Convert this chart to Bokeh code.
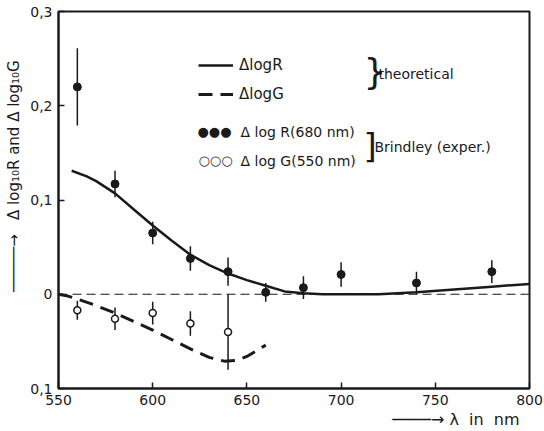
from bokeh.plotting import figure
from bokeh.models import Range1d, FixedTicker, Label, Legend, LegendItem, Span, Title
from bokeh.embed import file_html
from bokeh.resources import INLINE

# ---------------- data ----------------
# Brindley experimental points, Delta log R (680 nm) - filled circles
wl_R_exp = [560, 580, 600, 620, 640, 660, 680, 700, 740, 780]
dR_exp = [0.220, 0.117, 0.065, 0.038, 0.024, 0.002, 0.007, 0.021, 0.012, 0.024]
dR_err = [0.041, 0.014, 0.012, 0.013, 0.015, 0.010, 0.012, 0.013, 0.012, 0.012]

# Brindley experimental points, Delta log G (550 nm) - open circles
wl_G_exp = [560, 580, 600, 620, 640]
dG_exp = [-0.017, -0.026, -0.020, -0.031, -0.040]
dG_err = [0.010, 0.012, 0.012, 0.013, 0.040]

# theoretical Delta log R (solid)
wl_th_R = [557, 565, 570, 580, 590, 600, 610, 620, 630, 640, 650, 660, 670,
           680, 690, 700, 720, 740, 760, 780, 800]
dR_th = [0.131, 0.125, 0.120, 0.107, 0.090, 0.073, 0.057, 0.042, 0.031, 0.022,
         0.015, 0.009, 0.003, 0.001, 0.000, 0.000, 0.000, 0.002, 0.005, 0.008, 0.011]

# theoretical Delta log G (dashed)
wl_th_G = [550, 555, 560, 570, 580, 590, 600, 610, 620, 630, 638, 645, 650, 655, 660]
dG_th = [0.000, -0.002, -0.005, -0.012, -0.020, -0.029, -0.038, -0.048, -0.058,
         -0.067, -0.071, -0.070, -0.066, -0.060, -0.054]

x_ticks = [550, 600, 650, 700, 750, 800]
x_tick_labels = ["550", "600", "650", "700", "750", "800"]
y_ticks = [-0.1, 0.0, 0.1, 0.2, 0.3]
y_tick_labels = ["0,1", "0", "0,1", "0,2", "0,3"]

# ---------------- figure ----------------
FONT = "DejaVu Sans"
INK = "#1a1a1a"
NB = "\u00a0"
X0, X1, Y0, Y1 = 550, 800, -0.1, 0.3
FL, FR, FT, FB = 58, 529, 11, 388  # frame edges in px


def px_x(px):
    return X0 + (px - FL) * (X1 - X0) / (FR - FL)


def px_y(py):
    return Y1 - (py - FT) * (Y1 - Y0) / (FB - FT)


p = figure(width=544, height=431, output_backend="svg", toolbar_location=None,
           x_range=Range1d(X0, X1), y_range=Range1d(Y0, Y1),
           min_border_left=FL, min_border_right=544 - FR,
           min_border_top=FT, min_border_bottom=431 - FB)
p.grid.visible = False
p.outline_line_color = INK
p.outline_line_width = 2
p.background_fill_color = "white"
p.border_fill_color = "white"

for ax in (p.xaxis[0], p.yaxis[0]):
    ax.axis_line_width = 2
    ax.axis_line_color = INK
    ax.major_tick_in = 6
    ax.major_tick_out = 0
    ax.major_tick_line_width = 1.5
    ax.major_tick_line_color = INK
    ax.minor_tick_in = 0
    ax.minor_tick_out = 0
    ax.major_label_text_font = FONT
    ax.major_label_text_font_size = "14px"
    ax.major_label_text_color = INK

p.xaxis.ticker = FixedTicker(ticks=x_ticks)
p.xaxis.major_label_overrides = dict(zip(x_ticks, x_tick_labels))
p.xaxis.major_label_standoff = 6
p.yaxis.ticker = FixedTicker(ticks=y_ticks)
p.yaxis.major_label_overrides = dict(zip(y_ticks, y_tick_labels))
p.yaxis.major_label_standoff = 6
p.yaxis.axis_label = (NB * 10 + "─────→" + NB * 3 +
                      "Δ" + NB + "log₁₀R" + NB + "and" + NB + "Δ" + NB + "log₁₀G")
p.yaxis.axis_label_text_font = FONT
p.yaxis.axis_label_text_font_size = "15px"
p.yaxis.axis_label_text_font_style = "normal"
p.yaxis.axis_label_text_color = INK
p.yaxis.axis_label_standoff = 4

# x-axis title, placed at the right under the tick labels
p.add_layout(Title(text="────→" + NB + "λ" + NB * 2 + "in" + NB * 2 + "nm",
                   align="right", offset=10, standoff=0,
                   text_font=FONT, text_font_size="16px", text_font_style="normal",
                   text_color=INK), "below")

# zero line
p.add_layout(Span(location=0, dimension="width", line_color=INK, line_width=1.2,
                  line_dash="9 5"))

# theoretical curves
r_R = p.line(wl_th_R, dR_th, line_color=INK, line_width=2.5)
r_G = p.line(wl_th_G, dG_th, line_color=INK, line_width=3, line_dash="14 8")

# error bars
p.segment(x0=wl_R_exp, x1=wl_R_exp,
          y0=[v - e for v, e in zip(dR_exp, dR_err)],
          y1=[v + e for v, e in zip(dR_exp, dR_err)],
          line_color=INK, line_width=1.5)
p.segment(x0=wl_G_exp, x1=wl_G_exp,
          y0=[v - e for v, e in zip(dG_exp, dG_err)],
          y1=[v + e for v, e in zip(dG_exp, dG_err)],
          line_color=INK, line_width=1.5)

p.scatter(wl_R_exp, dR_exp, size=8, fill_color=INK, line_color=INK)
p.scatter(wl_G_exp, dG_exp, size=7, fill_color="white", line_color=INK, line_width=1.5)

# legend for theoretical curves
leg = Legend(items=[LegendItem(label="ΔlogR", renderers=[r_R]),
                    LegendItem(label="ΔlogG", renderers=[r_G])],
             location=(198 - FL, FB - FT - 83 - 10),
             glyph_width=35, glyph_height=20, label_height=20, spacing=9,
             padding=0, margin=0, border_line_alpha=0, background_fill_alpha=0,
             label_text_font=FONT, label_text_font_size="15px",
             label_text_color=INK, label_standoff=6)
p.add_layout(leg)


def lab(px, py, text, size="14px", align="left", angle=0.0):
    p.add_layout(Label(x=px_x(px), y=px_y(py), text=text, text_font=FONT,
                       text_font_size=size, text_color=INK, text_align=align,
                       text_baseline="middle", angle=angle))


lab(363, 71, "}", size="36px")
lab(378, 73, "theoretical")
lab(197, 131, "●●●", size="13px")
lab(240, 131, "Δ log R(680 nm)")
lab(198, 160, "○○○", size="13px")
lab(240, 160, "Δ log G(550 nm)")
lab(363, 145, "]", size="34px")
lab(374, 146, "Brindley (exper.)")

open("out.html", "w").write(file_html(p, INLINE))
